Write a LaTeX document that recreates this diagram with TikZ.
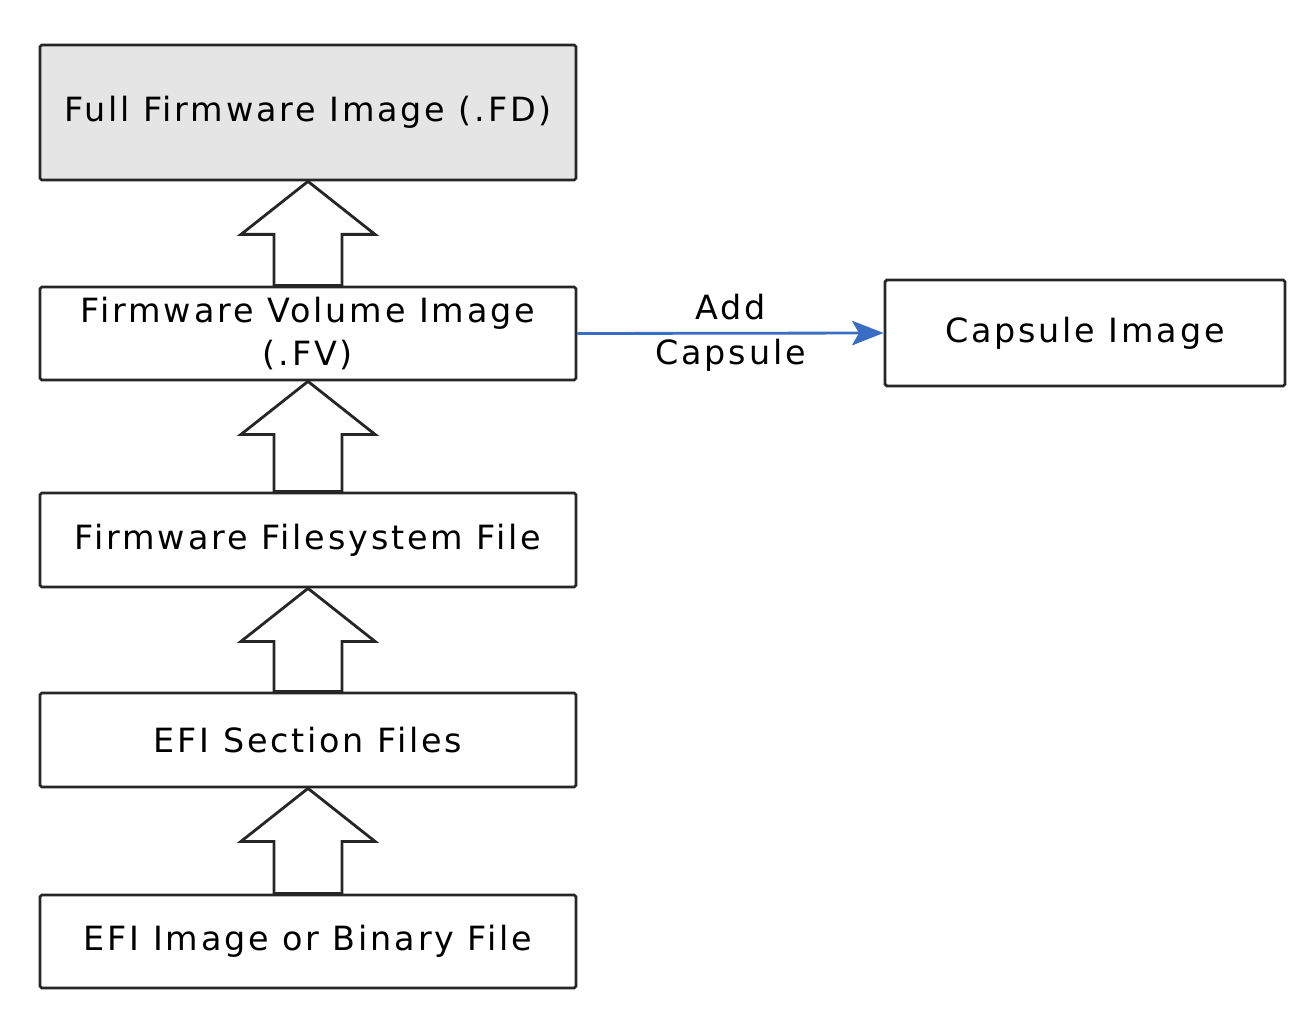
\documentclass[tikz,border=0pt]{standalone}
\usepackage{fontspec}
\setmainfont[LetterSpace=8.5]{DejaVu Sans}
\usetikzlibrary{calc,arrows.meta}

\tikzset{
  stagebox/.style={draw=black!85, line width=0.8pt, rounded corners=0.5pt,
    minimum width=5.36cm, align=center, font=\fontsize{9.5}{12.5}\selectfont, inner sep=2pt},
  blockarr/.style={draw=black!85, line width=0.8pt, fill=white, line join=miter},
}
% hollow up arrow from the top of #1 to the bottom of #2
\newcommand{\uparr}[2]{%
  \draw[blockarr] ($(#1.north)+(-0.34,0)$) |- ($(#2.south)+(-0.67,-0.53)$)
    -- (#2.south) -- ($(#2.south)+(0.67,-0.53)$) -| ($(#1.north)+(0.34,0)$) -- cycle;}

\begin{document}
\begin{tikzpicture}[>={Stealth[length=9pt,width=7pt,inset=2pt]}]
  \useasboundingbox (0,0) rectangle (13.1,-10.22);

  % the build stages, top to bottom
  \node[stagebox, fill=black!10, minimum height=1.35cm] (fd) at (3.08,-1.125) {Full Firmware Image (.FD)};
  \node[stagebox, minimum height=0.93cm] (fv) at (3.08,-3.335) {Firmware Volume Image\\(.FV)};
  \node[stagebox, minimum height=0.94cm] (ffs) at (3.08,-5.40) {Firmware Filesystem File};
  \node[stagebox, minimum height=0.94cm] (sec) at (3.08,-7.40) {EFI Section Files};
  \node[stagebox, minimum height=0.93cm] (bin) at (3.08,-9.415) {EFI Image or Binary File};

  \node[stagebox, minimum width=4.0cm, minimum height=1.06cm] (cap) at (10.85,-3.33) {Capsule Image};

  \uparr{fv}{fd}
  \uparr{ffs}{fv}
  \uparr{sec}{ffs}
  \uparr{bin}{sec}

  \draw[->, line width=0.8pt, color={rgb,255:red,58;green,110;blue,196}] (fv.east) -- (cap.west)
    node[midway, align=center, text=black, font=\fontsize{9.5}{12.8}\selectfont] (addcap) {Add\\Capsule};
\end{tikzpicture}
\end{document}
